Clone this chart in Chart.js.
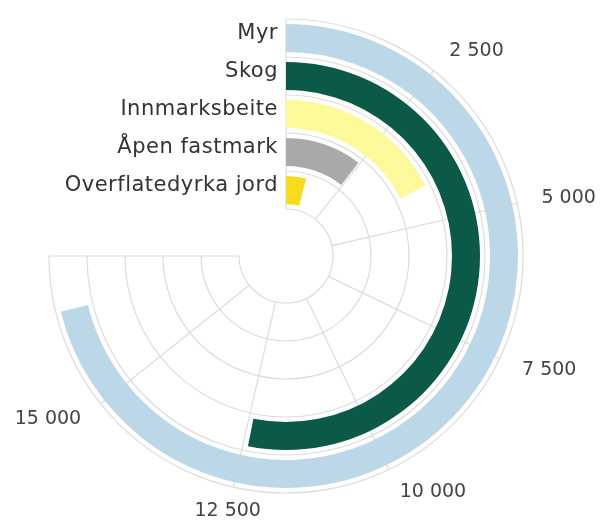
<!DOCTYPE html>
<html>
<head>
<meta charset="utf-8">
<script src="https://cdn.jsdelivr.net/npm/chart.js@4"></script>
<style>
  body { margin: 0; background: #fff; }
  #wrap { width: 601px; height: 524px; }
</style>
</head>
<body>
<div id="wrap"><canvas id="radialChart"></canvas></div>
<script>
// data
const categories = ["Myr", "Skog", "Innmarksbeite", "Åpen fastmark", "Overflatedyrka jord"];
const areaValues = [16600, 12400, 4100, 2450, 950];
const barColors = ["#bcd8e8", "#0a5a47", "#fbf99a", "#a9a9a9", "#f6dc1c"];
const tickValues = [2500, 5000, 7500, 10000, 12500, 15000];
const tickLabels = ["2 500", "5 000", "7 500", "10 000", "12 500", "15 000"];
const scaleMax = 17500;

//each track = spacer + bar + spacer, outermost first
function spacer() {
  return { data: [scaleMax], backgroundColor: "transparent", borderWidth: 0, weight: 5 };
}
let datasets = [];
categories.forEach((name, i) => {
  datasets.push(spacer());
  datasets.push({
    label: name,
    data: [areaValues[i], scaleMax - areaValues[i]],
    backgroundColor: [barColors[i], "transparent"],
    borderWidth: 0,
    weight: 28,
  });
  datasets.push(spacer());
});

function angleOf(v) {
  return -Math.PI / 2 + (v / scaleMax) * Math.PI * 1.5;
}

const gridPlugin = {
  id: "radialGrid",
  beforeDatasetsDraw(chart) {
    const ctx = chart.ctx;
    const n = chart.data.datasets.length;
    const outer = chart.getDatasetMeta(0).data[0];
    const inner = chart.getDatasetMeta(n - 1).data[0];
    const cx = outer.x, cy = outer.y;
    ctx.save();
    ctx.strokeStyle = "#dcdcdc";
    ctx.lineWidth = 1.2;
    // rings on track borders
    let radii = [inner.innerRadius];
    for (let i = 0; i < n; i += 3) radii.push(chart.getDatasetMeta(i).data[0].outerRadius);
    radii.forEach((r) => {
      ctx.beginPath();
      ctx.arc(cx, cy, r, angleOf(0), angleOf(scaleMax));
      ctx.stroke();
    });
    // spokes
    [0, ...tickValues, scaleMax].forEach((v) => {
      const a = angleOf(v);
      ctx.beginPath();
      ctx.moveTo(cx + Math.cos(a) * inner.innerRadius, cy + Math.sin(a) * inner.innerRadius);
      ctx.lineTo(cx + Math.cos(a) * outer.outerRadius, cy + Math.sin(a) * outer.outerRadius);
      ctx.stroke();
    });
    ctx.restore();
  },
  afterDatasetsDraw(chart) {
    const ctx = chart.ctx;
    const outer = chart.getDatasetMeta(0).data[0];
    const cx = outer.x, cy = outer.y;
    ctx.save();
    // tick labels
    ctx.font = "19px 'DejaVu Sans'";
    ctx.fillStyle = "#444";
    ctx.textBaseline = "middle";
    const rLab = outer.outerRadius + 25;
    tickValues.forEach((v, i) => {
      const a = angleOf(v);
      const x = cx + Math.cos(a) * rLab;
      const y = cy + Math.sin(a) * rLab;
      const s = Math.cos(a);
      ctx.textAlign = s > 0.3 ? "left" : s < -0.3 ? "right" : "center";
      ctx.fillText(tickLabels[i], x, y);
    });
    // category labels
    ctx.font = "21px 'DejaVu Sans'";
    ctx.letterSpacing = "0.5px";
    ctx.fillStyle = "#333";
    ctx.textAlign = "right";
    categories.forEach((name, i) => {
      const bar = chart.getDatasetMeta(i * 3 + 1).data[0];
      const r = (bar.innerRadius + bar.outerRadius) / 2;
      ctx.fillText(name, cx - 8, cy - r - 4);
    });
    ctx.restore();
  },
};

new Chart(document.getElementById("radialChart"), {
  type: "doughnut",
  data: { labels: ["value", "rest"], datasets: datasets },
  options: {
    responsive: true,
    maintainAspectRatio: false,
    animation: false,
    rotation: 0,
    circumference: 270,
    cutout: 47,
    layout: { padding: { left: 49, right: 78, top: 19, bottom: 31 } },
    plugins: { legend: { display: false }, tooltip: { enabled: false } },
  },
  plugins: [gridPlugin],
});
</script>
</body>
</html>
